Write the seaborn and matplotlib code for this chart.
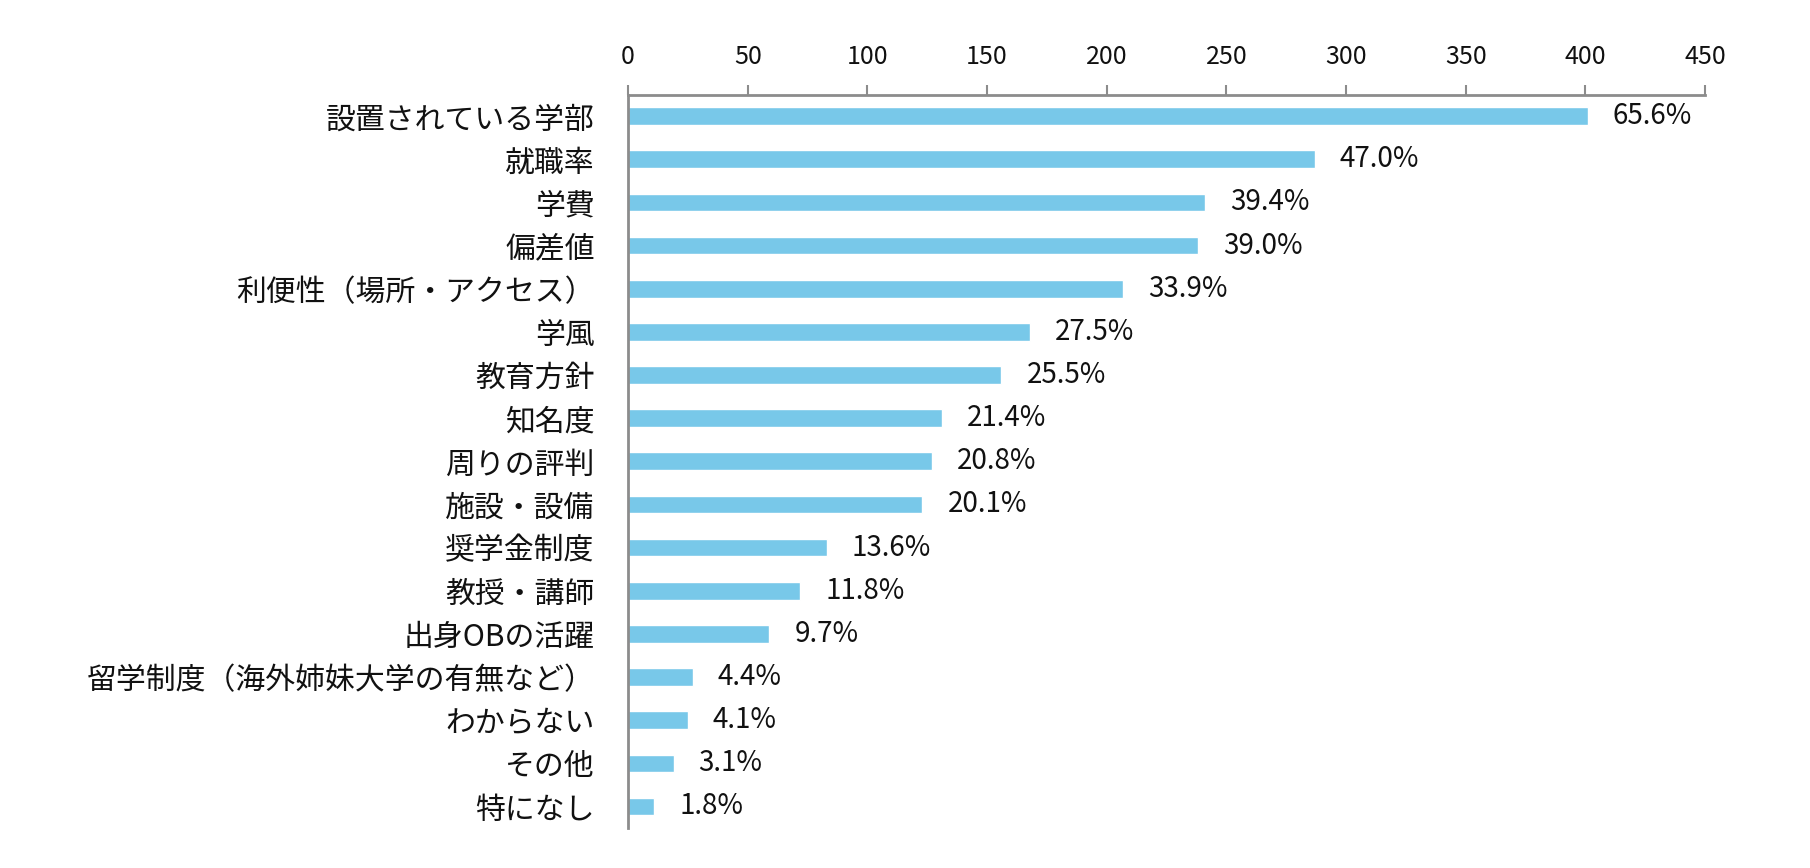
import matplotlib
matplotlib.use("Agg")
import matplotlib.pyplot as plt
import seaborn as sns
import pandas as pd
import numpy as np

# 項目と回答数（件）、割合ラベル
categories = [
    "設置されている学部", "就職率", "学費", "偏差値", "利便性（場所・アクセス）",
    "学風", "教育方針", "知名度", "周りの評判", "施設・設備", "奨学金制度",
    "教授・講師", "出身OBの活躍", "留学制度（海外姉妹大学の有無など）",
    "わからない", "その他", "特になし",
]
counts = [401, 287, 241, 238, 207, 168, 156, 131, 127, 123, 83, 72, 59, 27, 25, 19, 11]
pct_labels = ["65.6%", "47.0%", "39.4%", "39.0%", "33.9%", "27.5%", "25.5%", "21.4%",
              "20.8%", "20.1%", "13.6%", "11.8%", "9.7%", "4.4%", "4.1%", "3.1%", "1.8%"]
x_ticks = [0, 50, 100, 150, 200, 250, 300, 350, 400, 450]

sns.set_style("white")
plt.rcParams["font.family"] = ["Noto Sans CJK JP", "DejaVu Sans"]

df = pd.DataFrame({"item": categories, "count": counts})

fig = plt.figure(figsize=(18.1, 8.68), dpi=100)
ax = fig.add_axes([0.347, 0.046, 0.595, 0.845])

sns.barplot(data=df, x="count", y="item", orient="h", color="#78C8E9",
            width=0.41, ax=ax, saturation=1)

ax.set_xlim(0, 450)
ax.set_ylim(len(categories) - 0.5, -0.5)
ax.set_xticks(x_ticks)
ax.xaxis.tick_top()
ax.set_xlabel("")
ax.set_ylabel("")

axis_col = "#8C8C8C"
for side in ["right", "bottom"]:
    ax.spines[side].set_visible(False)
for side in ["top", "left"]:
    ax.spines[side].set_color(axis_col)
    ax.spines[side].set_linewidth(2)

ax.tick_params(axis="x", which="major", direction="out", length=7, width=1.5,
               color=axis_col, labelsize=18, pad=11, labelcolor="#111111")
ax.set_yticks(np.arange(-0.5, len(categories), 1.0), minor=True)
ax.tick_params(axis="y", which="major", length=0, labelsize=21.5, pad=24,
               labelcolor="#111111")
ax.tick_params(axis="y", which="minor", direction="out", length=8, width=1.5,
               color=axis_col)

ax.bar_label(ax.containers[0], labels=pct_labels, padding=18, fontsize=20,
             color="#111111")

fig.savefig("out.png", dpi=100)
